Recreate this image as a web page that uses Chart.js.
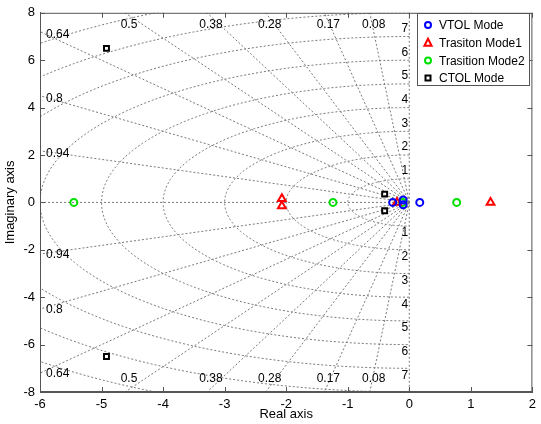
<!DOCTYPE html>
<html>
<head>
<meta charset="utf-8">
<script src="https://cdn.jsdelivr.net/npm/chart.js"></script>
<style>
  body { margin: 0; background: #fff; }
  canvas { display: block; }
</style>
</head>
<body>
<canvas id="pzmap" width="541" height="424"></canvas>
<script>
// pole positions (real, imaginary)
const vtolRe = [-0.27, -0.1, -0.1, 0.17];
const vtolIm = [0, 0.1, -0.1, 0];
const mode1Re = [-2.07, -2.07, -0.2, 1.32];
const mode1Im = [0.15, -0.15, 0, 0];
const mode2Re = [-5.45, -1.24, -0.11, 0.77];
const mode2Im = [0, 0, 0, 0];
const ctolRe = [-4.92, -4.92, -0.4, -0.4];
const ctolIm = [6.5, -6.5, 0.35, -0.35];

// sgrid values
const dampings = [0.08, 0.17, 0.28, 0.38, 0.5, 0.64, 0.8, 0.94];
const freqLabels = [1, 2, 3, 4, 5, 6, 7];
const freqCircles = [1, 2, 3, 4, 5, 6, 7, 8, 9, 10];

const xTicks = [-6, -5, -4, -3, -2, -1, 0, 1, 2];
const yTicks = [-8, -6, -4, -2, 0, 2, 4, 6, 8];

const AXIS_COLOR = '#555';

// the figure text is narrow and tall; use the narrow face when it is installed
const probe = document.createElement('canvas').getContext('2d');
probe.font = '14px "Liberation Sans Narrow", monospace';
const wNarrow = probe.measureText('VTOL Mode 0.94').width;
probe.font = '14px monospace';
const hasNarrow = Math.abs(wNarrow - probe.measureText('VTOL Mode 0.94').width) > 1;
const FONT = hasNarrow ? '"Liberation Sans Narrow", "Liberation Sans", Arial, sans-serif'
                       : '"Liberation Sans", Arial, sans-serif';
const BIG = hasNarrow ? 14 : 13;   // ticks, axis titles
const SMALL = hasNarrow ? 14 : 12; // sgrid labels, legend
const WEIGHT = hasNarrow ? 'bold' : 'normal';

function pts(re, im) {
  return re.map((x, i) => ({ x: x, y: im[i] }));
}

// MATLAB-like sgrid: damping rays, frequency circles and their labels
const sgridPlugin = {
  id: 'sgrid',
  beforeDatasetsDraw(chart) {
    const { ctx, chartArea: a, scales: { x, y } } = chart;
    ctx.save();
    ctx.beginPath();
    ctx.rect(a.left, a.top, a.right - a.left, a.bottom - a.top);
    ctx.clip();
    ctx.strokeStyle = '#7a7a7a';
    ctx.lineWidth = 1;
    ctx.setLineDash([2, 2]);

    const x0 = x.getPixelForValue(0), y0 = y.getPixelForValue(0);
    // real and imaginary axes
    ctx.beginPath();
    ctx.moveTo(a.left, y0); ctx.lineTo(x0, y0);
    ctx.moveTo(x0, a.top); ctx.lineTo(x0, a.bottom);
    ctx.stroke();

    // damping rays
    dampings.forEach(z => {
      const s = Math.sqrt(1 - z * z);
      const r = 20;
      ctx.beginPath();
      ctx.moveTo(x0, y0);
      ctx.lineTo(x.getPixelForValue(-z * r), y.getPixelForValue(s * r));
      ctx.moveTo(x0, y0);
      ctx.lineTo(x.getPixelForValue(-z * r), y.getPixelForValue(-s * r));
      ctx.stroke();
    });

    // frequency circles (left half)
    freqCircles.forEach(w => {
      ctx.beginPath();
      for (let k = 0; k <= 180; k++) {
        const t = Math.PI / 2 + k * Math.PI / 180;
        const px = x.getPixelForValue(w * Math.cos(t));
        const py = y.getPixelForValue(w * Math.sin(t));
        if (k === 0) ctx.moveTo(px, py); else ctx.lineTo(px, py);
      }
      ctx.stroke();
    });
    ctx.restore();

    // labels
    ctx.save();
    ctx.fillStyle = '#000';
    ctx.font = SMALL + 'px ' + FONT;
    const xmin = x.min, ymax = y.max;
    dampings.forEach(z => {
      const s = Math.sqrt(1 - z * z);
      const xt = -z * ymax / s;
      if (xt >= xmin) {
        const px = x.getPixelForValue(xt) + 4;
        ctx.textAlign = 'center';
        ctx.textBaseline = 'middle';
        ctx.fillText(String(z), px, a.top + 12);
        ctx.fillText(String(z), px, a.bottom - 13);
      } else {
        const yl = -xmin * s / z;
        ctx.textAlign = 'left';
        ctx.textBaseline = 'middle';
        ctx.fillText(String(z), a.left + 6, y.getPixelForValue(yl) + 3);
        ctx.fillText(String(z), a.left + 6, y.getPixelForValue(-yl) + 1);
      }
    });
    freqLabels.forEach(w => {
      ctx.textAlign = 'right';
      ctx.textBaseline = 'middle';
      ctx.fillText(String(w), x0 - 1, y.getPixelForValue(w) - 8);
      ctx.fillText(String(w), x0 - 1, y.getPixelForValue(-w) + 7);
    });
    ctx.restore();
  }
};

function drawMarker(ctx, style, color, cx, cy) {
  ctx.strokeStyle = color;
  ctx.lineWidth = 2;
  ctx.beginPath();
  if (style === 'circle') {
    ctx.arc(cx, cy, 3, 0, Math.PI * 2);
  } else if (style === 'triangle') {
    ctx.moveTo(cx, cy - 4);
    ctx.lineTo(cx + 3.6, cy + 3);
    ctx.lineTo(cx - 3.6, cy + 3);
    ctx.closePath();
  } else {
    ctx.rect(cx - 2.5, cy - 2.5, 5, 5);
  }
  ctx.stroke();
}

// box, inside ticks and in-plot legend
const framePlugin = {
  id: 'frame',
  afterDraw(chart) {
    const { ctx, chartArea: a, scales: { x, y } } = chart;
    ctx.save();
    ctx.strokeStyle = AXIS_COLOR;
    ctx.lineWidth = 1;
    ctx.setLineDash([]);
    ctx.strokeRect(a.left + 0.5, a.top + 0.5, a.right - a.left - 1, a.bottom - a.top - 1);
    const tl = 5;
    ctx.beginPath();
    xTicks.forEach(v => {
      const px = Math.round(x.getPixelForValue(v)) + 0.5;
      ctx.moveTo(px, a.bottom); ctx.lineTo(px, a.bottom - tl);
      ctx.moveTo(px, a.top); ctx.lineTo(px, a.top + tl);
    });
    yTicks.forEach(v => {
      const py = Math.round(y.getPixelForValue(v)) + 0.5;
      ctx.moveTo(a.left, py); ctx.lineTo(a.left + tl, py);
      ctx.moveTo(a.right, py); ctx.lineTo(a.right - tl, py);
    });
    ctx.stroke();

    // legend
    const lx = 417, ly = 13, lw = 112, lh = 72;
    ctx.fillStyle = '#fff';
    ctx.fillRect(lx, ly, lw, lh);
    ctx.strokeStyle = AXIS_COLOR;
    ctx.strokeRect(lx + 0.5, ly + 0.5, lw, lh);
    ctx.font = WEIGHT + ' ' + SMALL + 'px ' + FONT;
    ctx.textAlign = 'left';
    ctx.textBaseline = 'middle';
    chart.data.datasets.forEach((ds, i) => {
      const cy = ly + 12 + i * 17.7;
      drawMarker(ctx, ds.pointStyle, ds.borderColor, lx + 11, cy);
      ctx.fillStyle = '#000';
      ctx.fillText(ds.label, lx + 22, cy + 1);
    });
    ctx.restore();
  }
};

const tickFont = { family: FONT, size: BIG, weight: WEIGHT };

new Chart(document.getElementById('pzmap'), {
  type: 'scatter',
  data: {
    datasets: [
      { label: 'VTOL Mode', data: pts(vtolRe, vtolIm), pointStyle: 'circle', borderColor: '#0000ff', pointRadius: 3.5 },
      { label: 'Trasiton Mode1', data: pts(mode1Re, mode1Im), pointStyle: 'triangle', borderColor: '#ff0000', pointRadius: 4.5 },
      { label: 'Trasition Mode2', data: pts(mode2Re, mode2Im), pointStyle: 'circle', borderColor: '#00e000', pointRadius: 3.5 },
      { label: 'CTOL Mode', data: pts(ctolRe, ctolIm), pointStyle: 'rect', borderColor: '#000000', pointRadius: 3.5 }
    ].map(ds => Object.assign(ds, { backgroundColor: 'rgba(0,0,0,0)', borderWidth: 2, pointHoverRadius: ds.pointRadius }))
  },
  options: {
    responsive: false,
    animation: false,
    layout: { padding: { top: 11, right: 8, left: 0, bottom: 0 } },
    plugins: { legend: { display: false }, tooltip: { enabled: false } },
    scales: {
      x: {
        type: 'linear', min: -6, max: 2,
        afterBuildTicks: s => { s.ticks = xTicks.map(v => ({ value: v })); },
        afterFit: s => { s.height = 32; },
        grid: { display: false, drawTicks: false },
        border: { color: AXIS_COLOR },
        ticks: { color: '#000', font: tickFont, padding: 5, maxRotation: 0 },
        title: { display: true, text: 'Real axis', color: '#000', font: tickFont, padding: { top: 0, bottom: 2 } }
      },
      y: {
        type: 'linear', min: -8, max: 8,
        afterBuildTicks: s => { s.ticks = yTicks.map(v => ({ value: v })); },
        afterFit: s => { s.width = 40; },
        grid: { display: false, drawTicks: false },
        border: { color: AXIS_COLOR },
        ticks: { color: '#000', font: tickFont, padding: 5 },
        title: { display: true, text: 'Imaginary axis', color: '#000', font: tickFont, padding: { top: 3, bottom: 0 } }
      }
    }
  },
  plugins: [sgridPlugin, framePlugin]
});
</script>
</body>
</html>
